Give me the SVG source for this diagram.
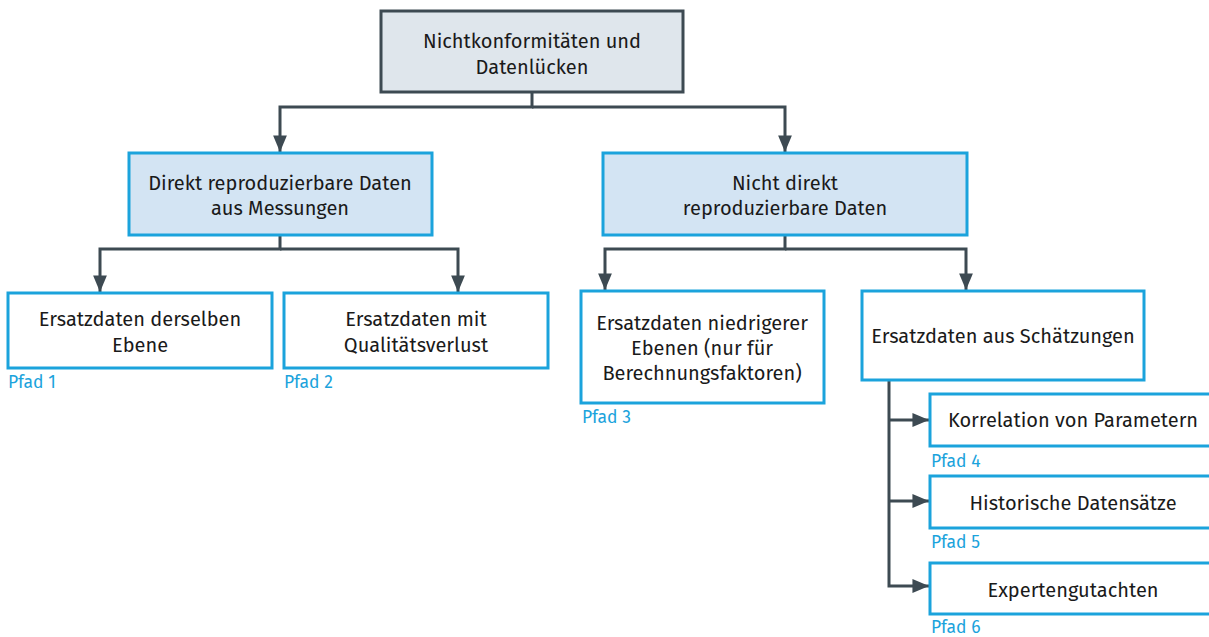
<svg xmlns="http://www.w3.org/2000/svg" width="1209" height="637" viewBox="0 0 1209 637">
<defs>
<style>
.t{font-family:"Fira Sans","Open Sans","Noto Sans",sans-serif;font-size:20px;fill:#1a1a1a;text-anchor:middle}
.p{font-family:"Fira Sans","Open Sans","Noto Sans",sans-serif;font-size:17.5px;fill:#1ba3dc}
.top{fill:#dfe6ec;stroke:#3d4a52;stroke-width:3}
.l2{fill:#d3e4f3;stroke:#1ba3dc;stroke-width:3}
.l3{fill:#ffffff;stroke:#1ba3dc;stroke-width:3}
.c{fill:none;stroke:#3d4a52;stroke-width:3}
</style>
<marker id="ah" viewBox="0 0 12 10" refX="12" refY="5" markerWidth="5.6" markerHeight="4.6" markerUnits="strokeWidth" orient="auto">
<path d="M0,0 L12,5 L0,10 z" fill="#3d4a52"/>
</marker>
</defs>
<rect width="1209" height="637" fill="#ffffff"/>
<g id="connectors">
<path class="c" d="M532,92 V107 H280 V152" marker-end="url(#ah)"/>
<path class="c" d="M532,107 H785 V152" marker-end="url(#ah)"/>
<path class="c" d="M280,235 V249 H100 V292" marker-end="url(#ah)"/>
<path class="c" d="M280,249 H458 V292" marker-end="url(#ah)"/>
<path class="c" d="M785,235 V249 H605 V290" marker-end="url(#ah)"/>
<path class="c" d="M785,249 H966 V290" marker-end="url(#ah)"/>
<path class="c" d="M889,380 V586 H929" marker-end="url(#ah)"/>
<path class="c" d="M889,420 H929" marker-end="url(#ah)"/>
<path class="c" d="M889,501 H929" marker-end="url(#ah)"/>
</g>
<g id="n0">
<rect class="top" x="381" y="11" width="302" height="81"/>
<text class="t" x="532" y="48">Nichtkonformitäten und</text>
<text class="t" x="532" y="74">Datenlücken</text>
</g>
<g id="n1">
<rect class="l2" x="129" y="153" width="303" height="82"/>
<text class="t" x="280" y="190">Direkt reproduzierbare Daten</text>
<text class="t" x="280" y="215">aus Messungen</text>
</g>
<g id="n2">
<rect class="l2" x="603" y="153" width="364" height="82"/>
<text class="t" x="785" y="190">Nicht direkt</text>
<text class="t" x="785" y="215">reproduzierbare Daten</text>
</g>
<g id="n3">
<rect class="l3" x="8" y="293" width="264" height="75"/>
<text class="t" x="140" y="326">Ersatzdaten derselben</text>
<text class="t" x="140" y="352">Ebene</text>
<text class="p" x="8" y="388">Pfad 1</text>
</g>
<g id="n4">
<rect class="l3" x="284" y="293" width="264" height="75"/>
<text class="t" x="416" y="326">Ersatzdaten mit</text>
<text class="t" x="416" y="352">Qualitätsverlust</text>
<text class="p" x="284" y="388">Pfad 2</text>
</g>
<g id="n5">
<rect class="l3" x="581" y="291" width="243" height="112"/>
<text class="t" x="702" y="330">Ersatzdaten niedrigerer</text>
<text class="t" x="702" y="355">Ebenen (nur für</text>
<text class="t" x="702" y="380">Berechnungsfaktoren)</text>
<text class="p" x="582" y="423">Pfad 3</text>
</g>
<g id="n6">
<rect class="l3" x="862" y="291" width="282" height="89"/>
<text class="t" x="1003" y="343">Ersatzdaten aus Schätzungen</text>
</g>
<g id="n7">
<rect class="l3" x="930" y="394" width="281" height="52"/>
<text class="t" x="1073" y="427">Korrelation von Parametern</text>
<text class="p" x="931" y="467">Pfad 4</text>
</g>
<g id="n8">
<rect class="l3" x="930" y="476" width="281" height="52"/>
<text class="t" x="1073" y="510">Historische Datensätze</text>
<text class="p" x="931" y="548">Pfad 5</text>
</g>
<g id="n9">
<rect class="l3" x="930" y="563" width="281" height="51"/>
<text class="t" x="1073" y="597">Expertengutachten</text>
<text class="p" x="931" y="633">Pfad 6</text>
</g>
</svg>
